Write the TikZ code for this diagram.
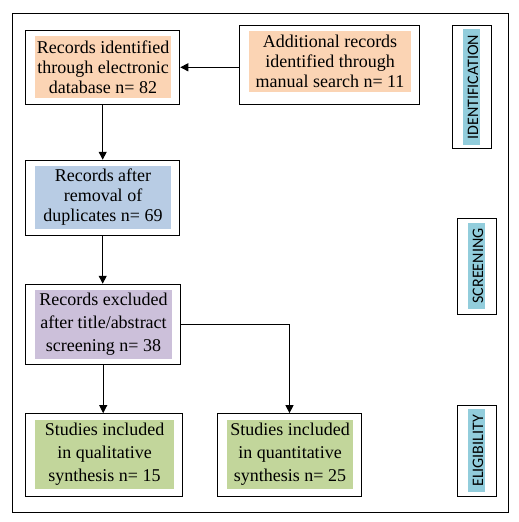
\documentclass[tikz,border=0pt]{standalone}
\usepackage{fontspec}
\setmainfont{Liberation Serif}
\newfontfamily\sidefont{Carlito}
\usetikzlibrary{arrows.meta}
\definecolor{peach}{RGB}{251,212,180}
\definecolor{paleblue}{RGB}{184,204,228}
\definecolor{palepurple}{RGB}{204,192,218}
\definecolor{palegreen}{RGB}{194,214,155}
\definecolor{sidecyan}{RGB}{146,205,220}
\begin{document}
\begin{tikzpicture}[x=1pt,y=-1pt,
  frame/.style={draw, line width=1pt},
  box/.style={draw, line width=1.1pt, inner sep=0pt},
  fillbox/.style={inner sep=0pt, align=center, font=\fontsize{18}{20}\selectfont},
  fillboxb/.style={inner sep=0pt, align=center, font=\fontsize{18}{23}\selectfont},
  sidelabel/.style={fill=sidecyan, rotate=90, inner xsep=5.5pt, inner ysep=0pt,
    text height=15pt, text depth=2pt, font=\sidefont\fontsize{16}{17}\selectfont},
  arr/.style={line width=0.9pt, -{Triangle[length=8pt,width=8pt]}}
]
\useasboundingbox (0,0) rectangle (519,522);
\fill[white] (0,0) rectangle (519,522);
\draw[frame] (12.3,13.7) rectangle (508.3,512.5);

% main boxes
\node[box, minimum width=154pt, minimum height=74pt] (b1) at (102.7,67.3) {};
\node[fillbox, fill=peach, minimum width=136pt, minimum height=61.7pt] (f1) at (103,66.8)
  {Records identified\\through electronic\\database n= 82};

\node[box, minimum width=180.4pt, minimum height=79pt] (b2) at (329.5,64.8) {};
\node[fillbox, fill=peach, minimum width=162pt, minimum height=60.7pt] (f2) at (330,61.3)
  {Additional records\\identified through\\manual search n= 11};

\node[box, minimum width=154pt, minimum height=75pt] (b3) at (102.7,197.8) {};
\node[fillbox, fill=paleblue, minimum width=136pt, minimum height=63pt] (f3) at (103,197.5)
  {Records after\\removal of\\duplicates n= 69};

\node[box, minimum width=155pt, minimum height=80pt] (b4) at (103.2,324.3) {};
\node[fillboxb, fill=palepurple, minimum width=137pt, minimum height=69pt] (f4) at (103.5,324.5)
  {Records excluded\\after title/abstract\\screening n= 38};

\node[box, minimum width=157pt, minimum height=82.6pt] (b5) at (104.2,455) {};
\node[fillboxb, fill=palegreen, minimum width=139pt, minimum height=68.7pt] (f5) at (104.5,454.3)
  {Studies included\\in qualitative\\synthesis n= 15};

\node[box, minimum width=144.4pt, minimum height=82.6pt] (b6) at (289.5,455) {};
\node[fillboxb, fill=palegreen, minimum width=126pt, minimum height=69pt] (f6) at (290,454.5)
  {Studies included\\in quantitative\\synthesis n= 25};

% side labels
\node[box, minimum width=39.4pt, minimum height=123pt] (s1) at (472,86.8) {};
\node[sidelabel] (l1) at (471.5,87) {IDENTIFICATION};
\node[box, minimum width=39.4pt, minimum height=96pt] (s2) at (477,266.3) {};
\node[sidelabel] (l2) at (476.7,266) {SCREENING};
\node[box, minimum width=39.4pt, minimum height=91pt] (s3) at (477,450.8) {};
\node[sidelabel] (l3) at (476.7,450.8) {ELIGIBILITY};

% connectors
\draw[arr] (b2.west |- b1.east) -- (b1.east);
\draw[arr] (b1.south) -- (b3.north);
\draw[arr] (b3.south) -- (b3.south |- b4.north);
\draw[arr] (b4.south) -- (b4.south |- b5.north);
\draw[arr] (b4.east) -| (b6.north);
\end{tikzpicture}
\end{document}
